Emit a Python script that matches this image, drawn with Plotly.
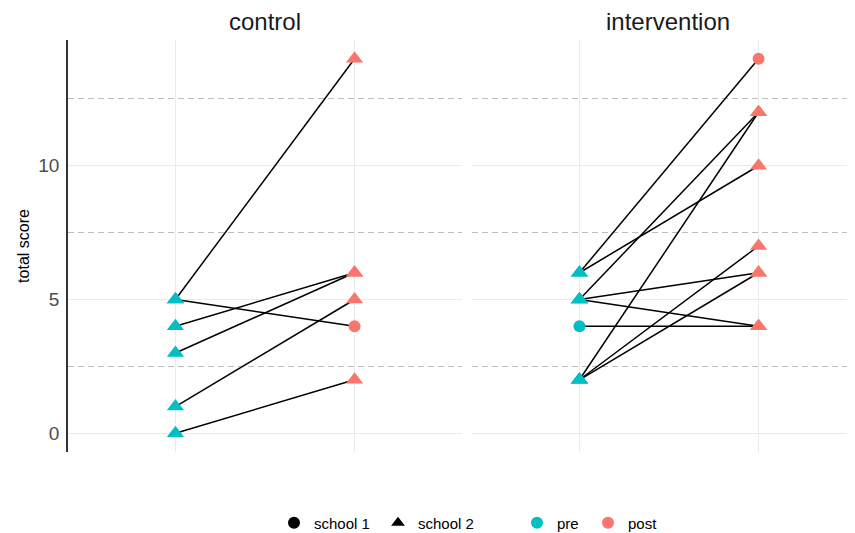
import plotly.graph_objects as go

# ---- data ----
facets = ["control", "intervention"]
control_pre = [5, 5, 4, 3, 1, 0]
control_post = [14, 4, 6, 6, 5, 2]
control_pre_school = [2, 2, 2, 2, 2, 2]
control_post_school = [2, 1, 2, 2, 2, 2]
intervention_pre = [6, 6, 5, 5, 5, 4, 2, 2, 2]
intervention_post = [14, 10, 12, 6, 4, 4, 12, 7, 6]
intervention_pre_school = [2, 2, 2, 2, 2, 1, 2, 2, 2]
intervention_post_school = [1, 2, 2, 2, 2, 2, 2, 2, 2]
times = ["pre", "post"]
time_pos = {"pre": 1, "post": 2}
y_ticks = [0, 5, 10]

colors = {"pre": "#00BFC4", "post": "#F8766D"}
symbols = {1: "circle", 2: "triangle-up"}
sizes = {1: 12, 2: 15}

FONT = "Arial, Liberation Sans, sans-serif"

fig = go.Figure()

panels = [
    (control_pre, control_post, control_pre_school, control_post_school, "x", "y"),
    (intervention_pre, intervention_post, intervention_pre_school,
     intervention_post_school, "x2", "y2"),
]

for pre, post, pre_s, post_s, xa, ya in panels:
    lx, ly = [], []
    for a, b in zip(pre, post):
        lx += [time_pos["pre"], time_pos["post"], None]
        ly += [a, b, None]
    fig.add_trace(go.Scatter(x=lx, y=ly, mode="lines", xaxis=xa, yaxis=ya,
                             line=dict(color="black", width=1.5),
                             showlegend=False, hoverinfo="skip"))
    for s in [1, 2]:
        for t, vals, sch in (("pre", pre, pre_s), ("post", post, post_s)):
            yy = [v for v, sc in zip(vals, sch) if sc == s]
            if not yy:
                continue
            fig.add_trace(go.Scatter(
                x=[time_pos[t]] * len(yy), y=yy, mode="markers",
                xaxis=xa, yaxis=ya,
                marker=dict(color=colors[t], symbol=symbols[s], size=sizes[s],
                            line=dict(width=0)),
                showlegend=False, cliponaxis=False))

# legend entries
for s, name in ((1, "school 1"), (2, "school 2")):
    fig.add_trace(go.Scatter(x=[None], y=[None], mode="markers", name=name,
                             marker=dict(color="black", symbol=symbols[s], size=12),
                             legend="legend"))
for t in times:
    fig.add_trace(go.Scatter(x=[None], y=[None], mode="markers", name=t,
                             marker=dict(color=colors[t], symbol="circle", size=12),
                             legend="legend2"))

# page body has an 8px margin; figure coordinates = page coordinates - 8
OFF = 8
W, H = 855 - OFF, 533 - OFF
L, T = 68 - OFF, 40 - OFF
plot_bottom = 452 - OFF
B = H - plot_bottom
R = 0
pw = W - L - R
ph = plot_bottom - T
left_end = 462 - OFF
right_start = 472 - OFF
x1_dom = [0, (left_end - L) / pw]
x2_dom = [(right_start - L) / pw, 1]
unit = (left_end - L) / 2.2
x2_range_end = 0.4 + (W - right_start) / unit

def px(xpage):
    return (xpage - OFF - L) / pw

leg_y = -(523 - 452) / ph

xcommon = dict(showgrid=True, gridcolor="#ebebeb", gridwidth=1,
               tickvals=[1, 2], showticklabels=False, ticks="",
               zeroline=False, showline=False, automargin=False)
ycommon = dict(range=[-0.7, 14.7], tickvals=y_ticks, showgrid=True,
               gridcolor="#ebebeb", gridwidth=1, zeroline=False, automargin=False,
               minor=dict(tickvals=[2.5, 7.5, 12.5], showgrid=True,
                          gridcolor="#bdbdbd", griddash="6px,4px", gridwidth=1,
                          ticks=""))

fig.update_layout(
    width=W, height=H,
    margin=dict(l=L, r=R, t=T, b=B, autoexpand=False),
    plot_bgcolor="white", paper_bgcolor="white",
    font=dict(family=FONT, color="black"),
    xaxis=dict(domain=x1_dom, range=[0.4, 2.6], **xcommon),
    xaxis2=dict(domain=x2_dom, range=[0.4, x2_range_end], **xcommon),
    yaxis=dict(ycommon, showline=True, linecolor="#333333", linewidth=1.5,
               tickfont=dict(size=19, color="#4d4d4d"), ticks="",
               ticklabelstandoff=3,
               title=dict(text="total score", font=dict(size=16, color="black"),
                          standoff=5)),
    yaxis2=dict(ycommon, anchor="x2", matches="y", showticklabels=False,
                showline=False),
    legend=dict(orientation="h", x=px(274), xanchor="left",
                y=leg_y, yanchor="middle", entrywidth=59, entrywidthmode="pixels",
                font=dict(size=15, color="black"), itemsizing="constant",
                bgcolor="rgba(0,0,0,0)"),
    legend2=dict(orientation="h", x=px(517), xanchor="left",
                 y=leg_y, yanchor="middle", entrywidth=26, entrywidthmode="pixels",
                 font=dict(size=15, color="black"), itemsizing="constant",
                 bgcolor="rgba(0,0,0,0)"),
    annotations=[
        dict(text="control", xref="paper", yref="paper",
             x=px(265), xanchor="center", y=1, yanchor="bottom", yshift=3,
             showarrow=False, font=dict(size=24, color="#1a1a1a")),
        dict(text="intervention", xref="paper", yref="paper",
             x=px(668), xanchor="center", y=1, yanchor="bottom", yshift=3,
             showarrow=False, font=dict(size=24, color="#1a1a1a")),
    ],
)

fig.write_html("out.html")
